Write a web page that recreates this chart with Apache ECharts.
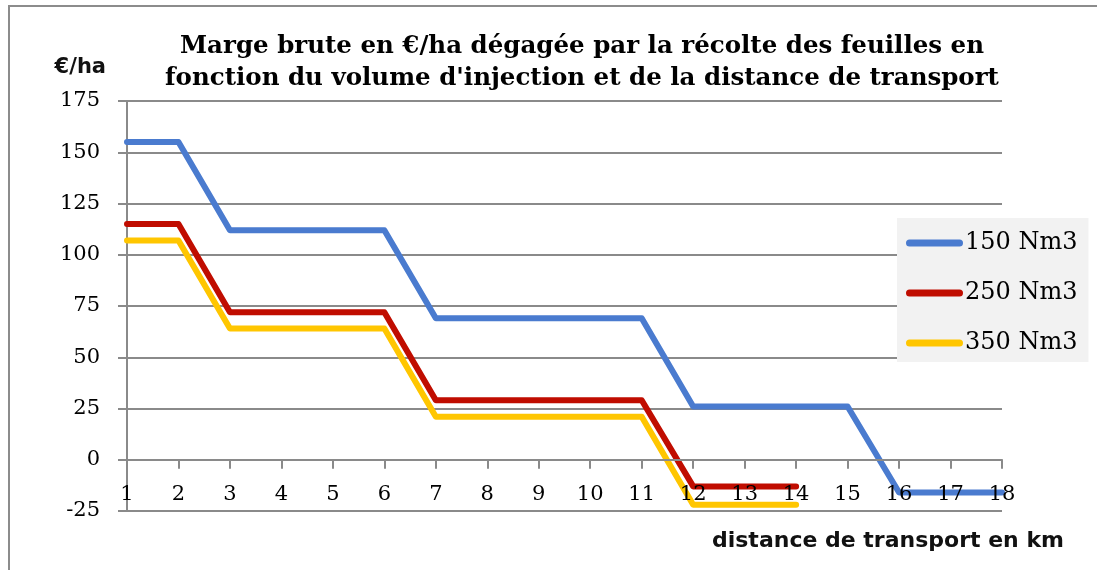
<!DOCTYPE html>
<html>
<head>
<meta charset="utf-8">
<script src="https://cdn.jsdelivr.net/npm/echarts@6/dist/echarts.min.js"></script>
<style>
  html, body { margin: 0; padding: 0; background: #fff; overflow: hidden; }
  #chart { width: 1097px; height: 570px; }
</style>
</head>
<body>
<div id="chart"></div>
<script>
// ── Data ─────────────────────────────────────────────────────────────────────
const DISTANCES = ['1','2','3','4','5','6','7','8','9','10','11','12','13','14','15','16','17','18'];
const SERIES_NAMES = ['150 Nm3', '250 Nm3', '350 Nm3'];
const MARGE_150 = [155,155,112,112,112,112,69,69,69,69,69,26,26,26,26,-16,-16,-16];
const MARGE_250 = [115,115,72,72,72,72,29,29,29,29,29,-13,-13,-13];
const MARGE_350 = [107,107,64,64,64,64,21,21,21,21,21,-22,-22,-22];
const COLORS = ['#4a7bcf', '#c00d00', '#ffc600'];

const SERIF = '"DejaVu Serif", serif';
const SANS = '"DejaVu Sans", sans-serif';
const GRID_GREY = '#8a8a8a';

const chart = echarts.init(document.getElementById('chart'), null, { renderer: 'canvas' });

function lineSeries(name, data, color) {
  return {
    name: name,
    type: 'line',
    data: data,
    symbol: 'none',
    color: color,
    lineStyle: { width: 6, color: color, cap: 'round', join: 'round' },
    animation: false
  };
}

chart.setOption({
  animation: false,
  // chart frame (left and top edges only, like the cropped Excel frame)
  graphic: [{
    type: 'polyline',
    silent: true,
    shape: { points: [[9, 570], [9, 6], [1097, 6]] },
    style: { stroke: '#8c8c8c', lineWidth: 2, fill: null }
  }],
  title: [{
    text: 'Marge brute en €/ha dégagée par la récolte des feuilles en\nfonction du volume d\'injection et de la distance de transport',
    left: 577,
    textAlign: 'center',
    top: 26,
    textStyle: { fontFamily: SERIF, fontWeight: 'bold', fontSize: 24.5, lineHeight: 32, color: '#000' }
  }, {
    text: 'distance de transport en km',
    right: 33,
    top: 530,
    padding: 0,
    textStyle: { fontFamily: SANS, fontWeight: 'bold', fontSize: 22, color: '#111' }
  }],
  legend: {
    orient: 'vertical',
    left: 897,
    top: 218,
    padding: [13, 11, 7, 9],
    itemGap: 26,
    backgroundColor: '#f2f2f2',
    itemWidth: 57,
    itemHeight: 7,
    icon: 'path://M3.5,0H53.5A3.5,3.5 0 0 1 53.5,7H3.5A3.5,3.5 0 0 1 3.5,0Z',
    itemStyle: { borderWidth: 0 },
    textStyle: { fontFamily: SERIF, fontSize: 24, lineHeight: 22, color: '#000', padding: [0, 0, 0, -3] },
    data: SERIES_NAMES
  },
  grid: { left: 127, right: 95, top: 101, bottom: 59, containLabel: false, outerBoundsMode: 'none' },
  xAxis: {
    type: 'category',
    data: DISTANCES,
    boundaryGap: false,
    z: 5,
    axisLine: { show: true, onZero: true, lineStyle: { color: GRID_GREY, width: 2 } },
    axisTick: { show: true, inside: false, length: 9, alignWithLabel: true, lineStyle: { color: GRID_GREY, width: 2 } },
    axisLabel: { fontFamily: SERIF, fontSize: 21, color: '#000', margin: -27, interval: 0 },
    splitLine: { show: false }
  },
  yAxis: {
    type: 'value',
    min: -25,
    max: 175,
    interval: 25,
    name: '€/ha',
    nameLocation: 'end',
    nameGap: 23,
    nameTextStyle: { fontFamily: SANS, fontWeight: 'bold', fontSize: 21, color: '#111',
                     align: 'right', padding: [0, 21, 0, 0] },
    axisLine: { show: true, lineStyle: { color: GRID_GREY, width: 2 } },
    axisTick: { show: true, length: 9, lineStyle: { color: GRID_GREY, width: 2 } },
    axisLabel: { fontFamily: SERIF, fontSize: 21, color: '#000', margin: 27 },
    splitLine: { show: true, lineStyle: { color: GRID_GREY, width: 2 } }
  },
  series: [
    lineSeries(SERIES_NAMES[0], MARGE_150, COLORS[0]),
    lineSeries(SERIES_NAMES[1], MARGE_250, COLORS[1]),
    lineSeries(SERIES_NAMES[2], MARGE_350, COLORS[2])
  ]
});
</script>
</body>
</html>
